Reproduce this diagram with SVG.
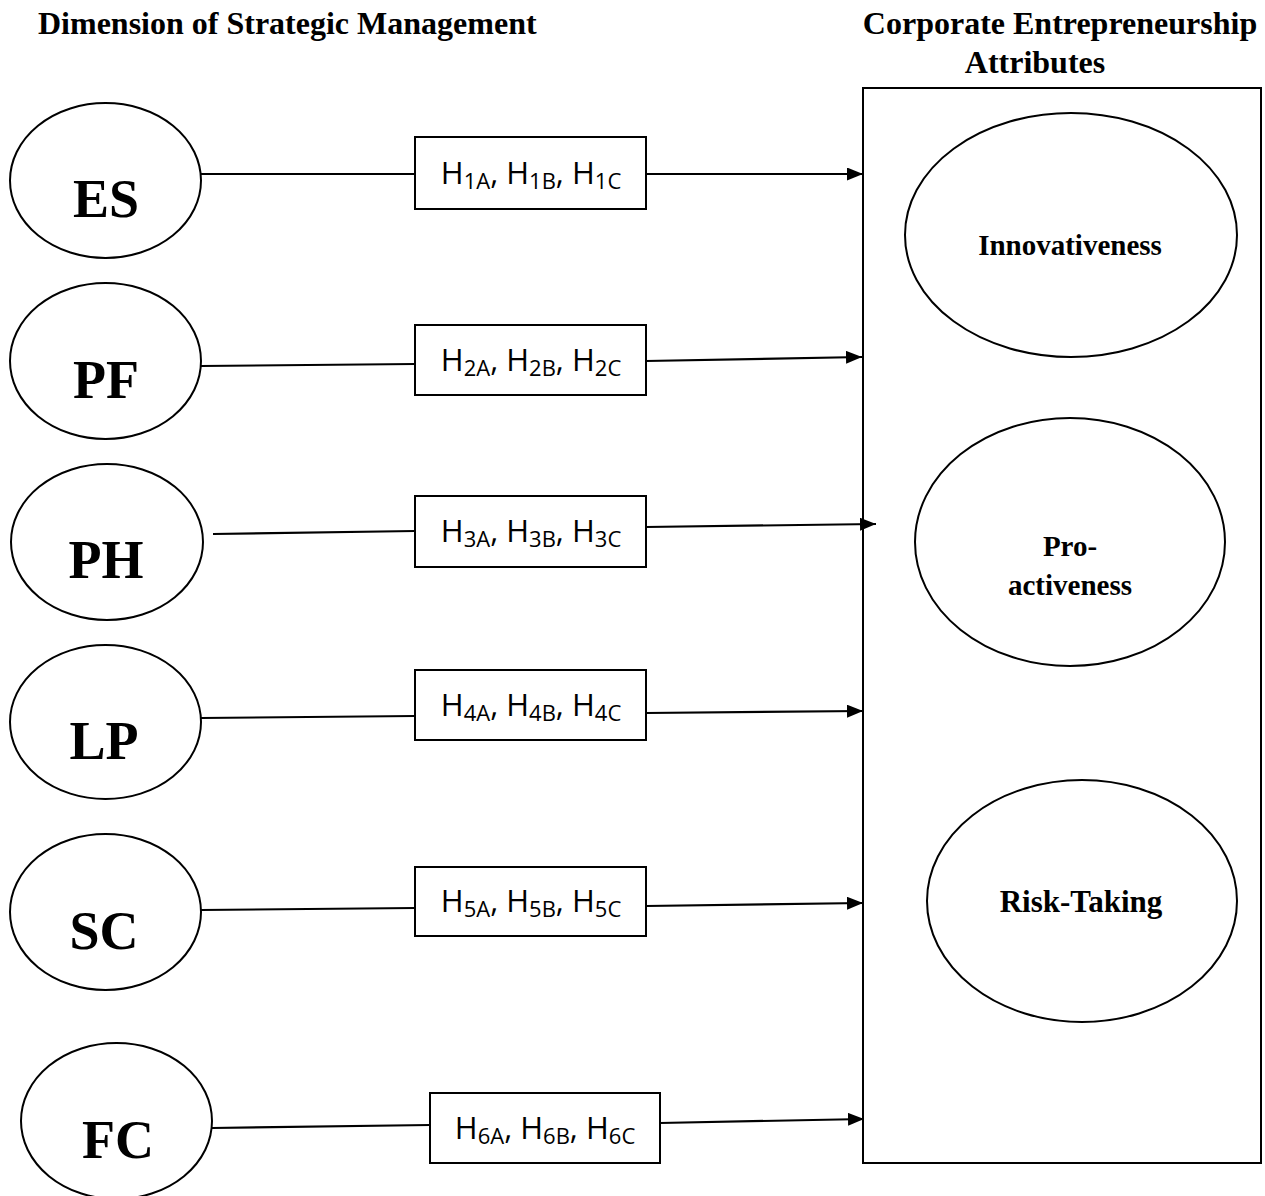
<svg xmlns="http://www.w3.org/2000/svg" width="1265" height="1196" viewBox="0 0 1265 1196">
<defs>
<style>
.shape{fill:#fff;stroke:#000;stroke-width:2}
.conn{fill:none;stroke:#000;stroke-width:2.2}
.head{font-family:"Liberation Serif","Times New Roman",serif;font-weight:bold;font-size:32px}
.big{font-family:"Liberation Serif","Times New Roman",serif;font-weight:bold;font-size:54px;text-anchor:middle}
.inner{font-family:"Liberation Serif","Times New Roman",serif;font-weight:bold;text-anchor:middle}
.hyp{font-family:"Open Sans","Noto Sans",sans-serif;font-size:31px;text-anchor:middle}
.sub{font-size:22px}
</style>
<marker id="arr" viewBox="0 0 16 13" refX="16" refY="6.5" markerWidth="16" markerHeight="13" markerUnits="userSpaceOnUse" orient="auto">
<path d="M0,0 L16,6.5 L0,13 z" fill="#000"/>
</marker>
</defs>
<rect width="1265" height="1196" fill="#fff"/>

<g id="headers">
<text class="head" x="38" y="34">Dimension of Strategic Management</text>
<text class="head" x="1060" y="34" text-anchor="middle" font-size="31">Corporate Entrepreneurship</text>
<text class="head" x="1035" y="73" text-anchor="middle" font-size="31">Attributes</text>
</g>

<g id="ce-box">
<rect class="shape" x="863" y="88" width="398" height="1075"/>
</g>

<g id="connectors">
<line class="conn" x1="201" y1="174" x2="415" y2="174"/>
<line class="conn" x1="646" y1="174" x2="863" y2="174" marker-end="url(#arr)"/>
<line class="conn" x1="201" y1="366" x2="415" y2="364"/>
<line class="conn" x1="646" y1="361" x2="862" y2="357" marker-end="url(#arr)"/>
<line class="conn" x1="213" y1="534" x2="415" y2="531"/>
<line class="conn" x1="646" y1="527" x2="876" y2="524" marker-end="url(#arr)"/>
<line class="conn" x1="201" y1="718" x2="415" y2="716"/>
<line class="conn" x1="646" y1="713" x2="863" y2="711" marker-end="url(#arr)"/>
<line class="conn" x1="201" y1="910" x2="415" y2="908"/>
<line class="conn" x1="646" y1="906" x2="863" y2="903" marker-end="url(#arr)"/>
<line class="conn" x1="212" y1="1128" x2="430" y2="1125"/>
<line class="conn" x1="660" y1="1123" x2="864" y2="1119" marker-end="url(#arr)"/>
</g>

<g id="ES"><ellipse class="shape" cx="105.5" cy="180.5" rx="95.5" ry="77.5"/><text class="big" x="106" y="217">ES</text></g>
<g id="PF"><ellipse class="shape" cx="105.5" cy="361" rx="95.5" ry="78"/><text class="big" x="106" y="398">PF</text></g>
<g id="PH"><ellipse class="shape" cx="107" cy="542" rx="96" ry="78"/><text class="big" x="106" y="578">PH</text></g>
<g id="LP"><ellipse class="shape" cx="105.5" cy="722" rx="95.5" ry="77"/><text class="big" x="104" y="759">LP</text></g>
<g id="SC"><ellipse class="shape" cx="105.5" cy="912" rx="95.5" ry="78"/><text class="big" x="104" y="949">SC</text></g>
<g id="FC"><ellipse class="shape" cx="116.5" cy="1121" rx="95.5" ry="78"/><text class="big" x="118" y="1158">FC</text></g>

<g id="H1"><rect class="shape" x="415" y="137" width="231" height="72"/>
<text class="hyp" x="531" y="184">H<tspan class="sub" dy="5">1A</tspan><tspan dy="-5">, H</tspan><tspan class="sub" dy="5">1B</tspan><tspan dy="-5">, H</tspan><tspan class="sub" dy="5">1C</tspan></text></g>
<g id="H2"><rect class="shape" x="415" y="325" width="231" height="70"/>
<text class="hyp" x="531" y="371">H<tspan class="sub" dy="5">2A</tspan><tspan dy="-5">, H</tspan><tspan class="sub" dy="5">2B</tspan><tspan dy="-5">, H</tspan><tspan class="sub" dy="5">2C</tspan></text></g>
<g id="H3"><rect class="shape" x="415" y="496" width="231" height="71"/>
<text class="hyp" x="531" y="542">H<tspan class="sub" dy="5">3A</tspan><tspan dy="-5">, H</tspan><tspan class="sub" dy="5">3B</tspan><tspan dy="-5">, H</tspan><tspan class="sub" dy="5">3C</tspan></text></g>
<g id="H4"><rect class="shape" x="415" y="670" width="231" height="70"/>
<text class="hyp" x="531" y="716">H<tspan class="sub" dy="5">4A</tspan><tspan dy="-5">, H</tspan><tspan class="sub" dy="5">4B</tspan><tspan dy="-5">, H</tspan><tspan class="sub" dy="5">4C</tspan></text></g>
<g id="H5"><rect class="shape" x="415" y="867" width="231" height="69"/>
<text class="hyp" x="531" y="912">H<tspan class="sub" dy="5">5A</tspan><tspan dy="-5">, H</tspan><tspan class="sub" dy="5">5B</tspan><tspan dy="-5">, H</tspan><tspan class="sub" dy="5">5C</tspan></text></g>
<g id="H6"><rect class="shape" x="430" y="1093" width="230" height="70"/>
<text class="hyp" x="545" y="1139">H<tspan class="sub" dy="5">6A</tspan><tspan dy="-5">, H</tspan><tspan class="sub" dy="5">6B</tspan><tspan dy="-5">, H</tspan><tspan class="sub" dy="5">6C</tspan></text></g>

<g id="Innovativeness"><ellipse class="shape" cx="1071" cy="235" rx="166" ry="122"/><text class="inner" x="1070" y="255" font-size="29">Innovativeness</text></g>
<g id="Proactiveness"><ellipse class="shape" cx="1070" cy="542" rx="155" ry="124"/><text class="inner" x="1070" y="556" font-size="29">Pro-</text><text class="inner" x="1070" y="595" font-size="29">activeness</text></g>
<g id="RiskTaking"><ellipse class="shape" cx="1082" cy="901" rx="155" ry="121"/><text class="inner" x="1081" y="912" font-size="31">Risk-Taking</text></g>
</svg>
